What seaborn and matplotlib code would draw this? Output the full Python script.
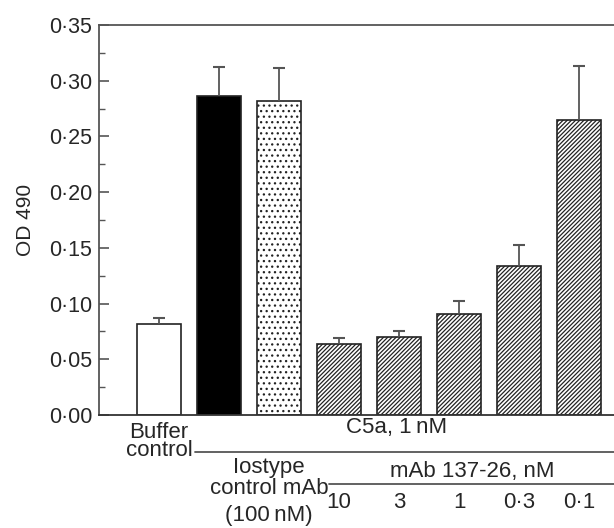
import matplotlib
matplotlib.use("Agg")
import matplotlib.pyplot as plt
import seaborn as sns
import numpy as np

# ---- data ----
categories = ["Buffer control", "C5a", "C5a + isotype", "10", "3", "1", "0·3", "0·1"]
values = [0.082, 0.286, 0.282, 0.064, 0.070, 0.091, 0.134, 0.265]
errors = [0.005, 0.026, 0.029, 0.005, 0.005, 0.011, 0.019, 0.048]
dose_labels = ["10", "3", "1", "0·3", "0·1"]
yticks = [0.00, 0.05, 0.10, 0.15, 0.20, 0.25, 0.30, 0.35]
ytick_labels = ["0·00", "0·05", "0·10", "0·15", "0·20", "0·25", "0·30", "0·35"]

sns.set_theme(style="white")
plt.rcParams["font.family"] = ["Liberation Sans", "DejaVu Sans"]
plt.rcParams["hatch.linewidth"] = 0.9
plt.rcParams["hatch.color"] = "#222222"

W, H = 614, 528
fig = plt.figure(figsize=(W / 100, H / 100), dpi=100)
ax_left, ax_bottom = 99.3 / W, 1 - 415 / H
ax = fig.add_axes([ax_left, ax_bottom, 1 - ax_left, 390 / H])

x = np.arange(len(categories))
sns.barplot(x=x, y=values, ax=ax, width=0.725, color="white",
            edgecolor="#222222", linewidth=1.2, native_scale=True)

fills = ["white", "black", "white"] + ["white"] * 5
hatches = [None, None, "..."] + ["////////"] * 5
for p, fc, h in zip(ax.patches, fills, hatches):
    p.set_facecolor(fc)
    p.set_edgecolor("#222222")
    if h:
        p.set_hatch(h)

eb = ax.errorbar(x, values, yerr=[np.zeros(len(values)), errors], fmt="none",
                 ecolor="#555555", elinewidth=1.3, capsize=4.3, capthick=1.5, zorder=5)
eb[1][0].set_visible(False)

ax.set_xlim(-0.995, 7.583)
ax.set_ylim(0, 0.35)
ax.set_yticks(yticks)
ax.set_yticklabels(ytick_labels, fontsize=15.5)
ax.set_yticks(np.arange(0.025, 0.35, 0.05), minor=True)
ax.tick_params(axis="y", which="major", direction="in", length=7, width=1.2,
               color="#555555", pad=5, left=True)
ax.tick_params(axis="y", which="minor", direction="in", length=4, width=1.0,
               color="#555555", left=True)
ax.set_xticks([])
ax.set_ylabel("OD 490", fontsize=15, labelpad=10)

for side in ["left", "top", "bottom"]:
    ax.spines[side].set_visible(True)
    ax.spines[side].set_color("#555555")
    ax.spines[side].set_linewidth(1.3)
ax.spines["right"].set_visible(False)
ax.spines["bottom"].set_color("#333333")

# ---- category annotation below axis ----
trans = ax.get_xaxis_transform()

def ay(py):
    return (415 - py) / 390

def dx(px):
    return (px - 159) / 60

fs = 16
ax.text(x[0], ay(432), "Buffer", ha="center", va="center", fontsize=fs, transform=trans)
ax.text(x[0], ay(451), "control", ha="center", va="center", fontsize=fs, transform=trans)
ax.text(dx(397), ay(427), "C5a, 1\u2009nM", ha="center", va="center", fontsize=fs, transform=trans)
ax.plot([dx(195), 7.583], [ay(452), ay(452)], color="#555555", lw=1.3,
        transform=trans, clip_on=False)
ax.text(dx(269), ay(467), "Iostype", ha="center", va="center", fontsize=fs, transform=trans)
ax.text(dx(269), ay(488), "control mAb", ha="center", va="center", fontsize=fs, transform=trans)
ax.text(dx(269), ay(515), "(100\u2009nM)", ha="center", va="center", fontsize=fs, transform=trans)
ax.text(dx(472), ay(472), "mAb 137-26, nM", ha="center", va="center", fontsize=fs, transform=trans)
ax.plot([dx(329), 7.583], [ay(484), ay(484)], color="#555555", lw=1.3,
        transform=trans, clip_on=False)
for xi, lab in zip(x[3:], dose_labels):
    ax.text(xi, ay(502), lab, ha="center", va="center", fontsize=fs, transform=trans)

fig.savefig("out.png", dpi=100)
